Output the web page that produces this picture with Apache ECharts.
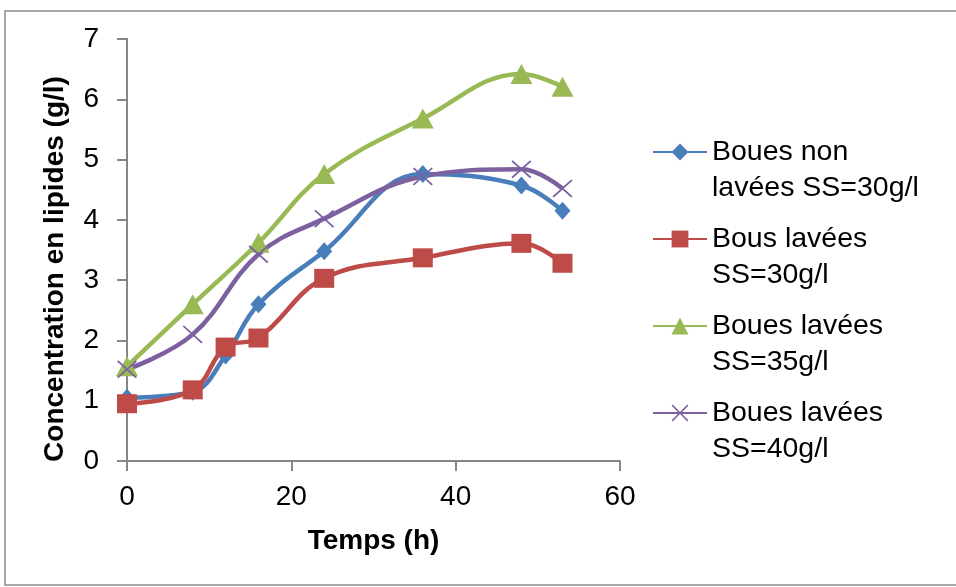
<!DOCTYPE html>
<html>
<head>
<meta charset="utf-8">
<title>Concentration en lipides</title>
<script src="https://cdn.jsdelivr.net/npm/echarts@6/dist/echarts.min.js"></script>
<style>
  html, body { margin: 0; padding: 0; background: #ffffff; }
  #chart { width: 956px; height: 587px; }
</style>
</head>
<body>
<div id="chart"></div>
<script>
// Sampling times (h)
var timesFull = [0, 8, 12, 16, 24, 36, 48, 53];
var timesShort = [0, 8, 16, 24, 36, 48, 53];

// Lipid concentration (g/l) for each sludge
var bouesNonLavees30 = [1.05, 1.15, 1.75, 2.60, 3.48, 4.76, 4.57, 4.15];
var bousLavees30 = [0.95, 1.18, 1.89, 2.04, 3.03, 3.37, 3.61, 3.28];
var bouesLavees35 = [1.57, 2.60, 3.62, 4.76, 5.68, 6.42, 6.21];
var bouesLavees40 = [1.52, 2.10, 3.43, 4.02, 4.72, 4.84, 4.52];

var seriesNames = [
  'Boues non\nlavées SS=30g/l',
  'Bous lavées\nSS=30g/l',
  'Boues lavées\nSS=35g/l',
  'Boues lavées\nSS=40g/l'
];

var xTitle = 'Temps (h)';
var yTitle = 'Concentration en lipides (g/l)';

function pairs(xs, ys) {
  return xs.map(function (x, i) { return [x, ys[i]]; });
}

var FONT = '"Liberation Sans", Arial, sans-serif';
var AXIS_GREY = '#868686';
var crossSymbol = 'path://M0,1.3 L1.3,0 L10,8.7 L18.7,0 L20,1.3 L11.3,10 L20,18.7 L18.7,20 L10,11.3 L1.3,20 L0,18.7 L8.7,10 Z';

function lineSeries(name, data, color, symbol, size) {
  return {
    name: name,
    type: 'line',
    data: data,
    smooth: 0.4,
    symbol: symbol,
    symbolSize: size,
    showAllSymbol: true,
    lineStyle: { color: color, width: 4.5 },
    itemStyle: { color: color, borderWidth: 0 },
    emphasis: { disabled: true }
  };
}

var chart = echarts.init(document.getElementById('chart'), null, { renderer: 'canvas' });

chart.setOption({
  animation: false,
  backgroundColor: '#ffffff',
  textStyle: { fontFamily: FONT },
  graphic: [{
    type: 'rect',
    shape: { x: 5, y: 11, width: 1000, height: 574 },
    style: { fill: 'none', stroke: '#8c8c8c', lineWidth: 1.5 },
    silent: true
  }],
  grid: { left: 127, top: 39, width: 493, height: 422 },
  legend: {
    orient: 'vertical',
    left: 652,
    top: 98,
    padding: 0,
    itemGap: -21,
    itemWidth: 54,
    itemHeight: 21,
    selectedMode: false,
    data: seriesNames,
    // a leading blank line keeps the first line of each name level with its marker
    formatter: function (name) { return '\n' + name; },
    textStyle: {
      fontFamily: FONT,
      fontSize: 28.5,
      color: '#000000',
      lineHeight: 36
    }
  },
  xAxis: {
    type: 'value',
    min: 0,
    max: 60,
    interval: 20,
    name: xTitle,
    nameLocation: 'middle',
    nameGap: 66,
    nameTextStyle: { fontFamily: FONT, fontSize: 28, fontWeight: 'bold', color: '#000000' },
    axisLine: { show: true, lineStyle: { color: AXIS_GREY, width: 2 } },
    axisTick: { show: true, inside: false, length: 10, lineStyle: { color: AXIS_GREY, width: 2 } },
    axisLabel: { fontFamily: FONT, fontSize: 28, color: '#000000', margin: 22 },
    splitLine: { show: false }
  },
  yAxis: {
    type: 'value',
    min: 0,
    max: 7,
    interval: 1,
    name: yTitle,
    nameLocation: 'middle',
    nameGap: 58,
    nameTextStyle: { fontFamily: FONT, fontSize: 28, fontWeight: 'bold', color: '#000000', padding: [0, 38, 0, 0] },
    axisLine: { show: true, lineStyle: { color: AXIS_GREY, width: 2 } },
    axisTick: { show: true, inside: false, length: 10, lineStyle: { color: AXIS_GREY, width: 2 } },
    axisLabel: { fontFamily: FONT, fontSize: 28, color: '#000000', margin: 28 },
    splitLine: { show: false }
  },
  series: [
    lineSeries(seriesNames[0], pairs(timesFull, bouesNonLavees30), '#4A7EBB', 'diamond', [16, 18]),
    lineSeries(seriesNames[1], pairs(timesFull, bousLavees30), '#BE4B48', 'rect', [20, 19]),
    lineSeries(seriesNames[2], pairs(timesShort, bouesLavees35), '#98B954', 'triangle', [22, 20]),
    lineSeries(seriesNames[3], pairs(timesShort, bouesLavees40), '#7D60A0', crossSymbol, [20, 18])
  ]
});
</script>
</body>
</html>
